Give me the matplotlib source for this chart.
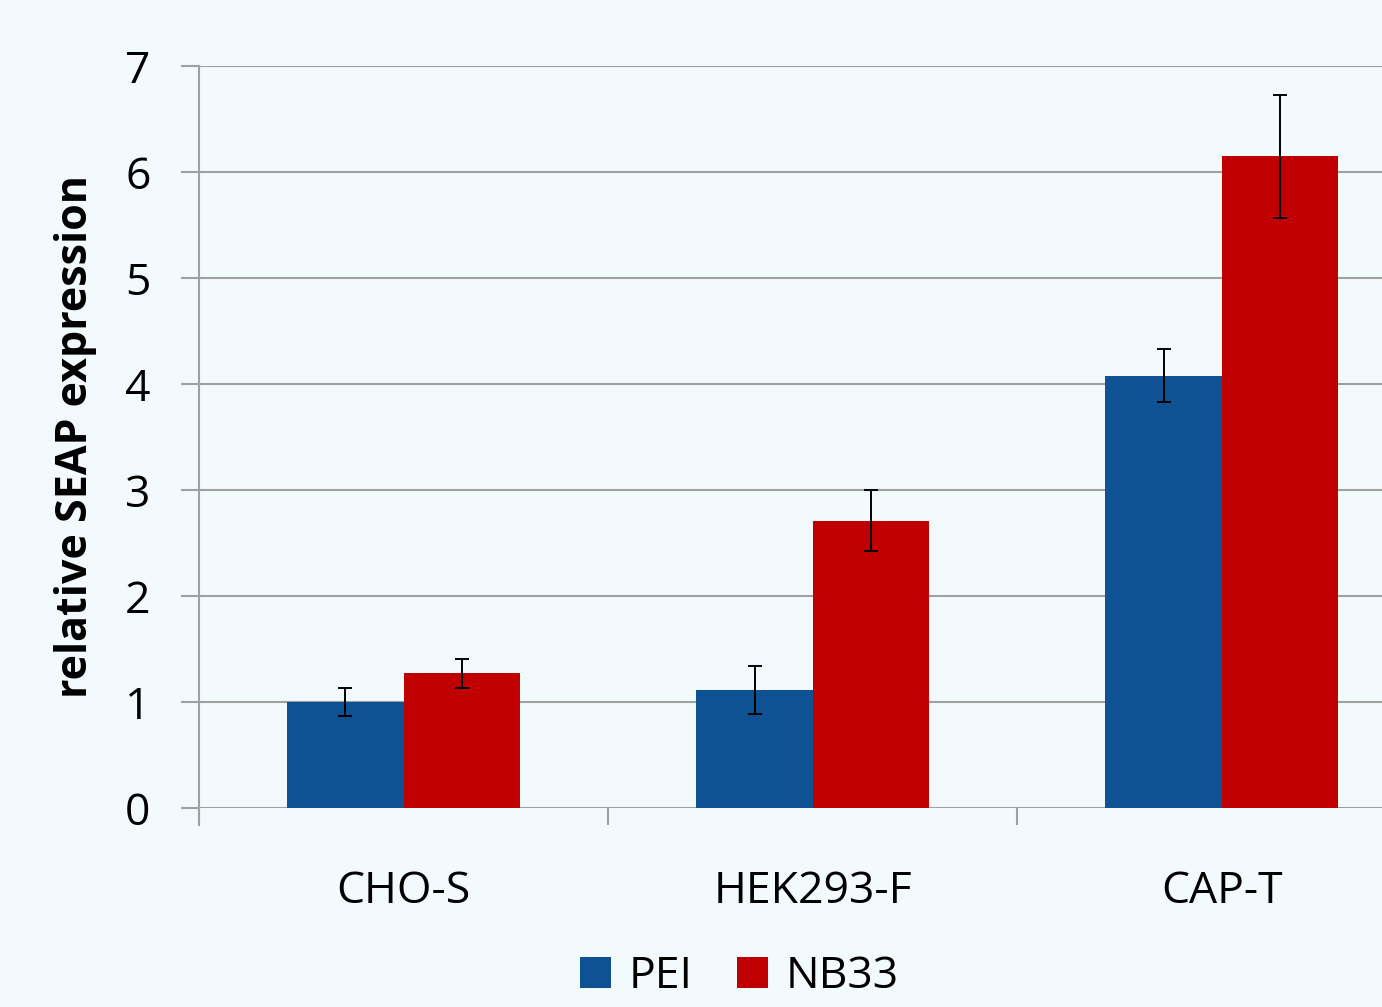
import matplotlib.pyplot as plt
import numpy as np

# data
cell_lines = ['CHO-S', 'HEK293-F', 'CAP-T']
pei = [1.00, 1.11, 4.08]
pei_err = [0.13, 0.225, 0.25]
nb33 = [1.27, 2.71, 6.15]
nb33_err = [0.14, 0.29, 0.58]
series_names = ['PEI', 'NB33']

bg = '#F3FAFD'
blue = '#0F5294'
red = '#C00000'
grid_col = '#A0A0A0'

plt.rcParams['font.family'] = ['Open Sans', 'DejaVu Sans']

fig = plt.figure(figsize=(13.82, 10.07), dpi=100, facecolor=bg)
ax = fig.add_axes([0.144, 0.1976, 0.856, 0.7369])
ax.set_facecolor(bg)

x = np.arange(len(cell_lines))
w = 0.284
ax.bar(x - w/2, pei, w, color=blue, label=series_names[0], zorder=3)
ax.bar(x + w/2, nb33, w, color=red, label=series_names[1], zorder=3)
ax.errorbar(x - w/2, pei, yerr=pei_err, fmt='none', ecolor='black', elinewidth=1.4,
            capsize=5, capthick=1.4, zorder=4)
ax.errorbar(x + w/2, nb33, yerr=nb33_err, fmt='none', ecolor='black', elinewidth=1.4,
            capsize=5, capthick=1.4, zorder=4)

ax.set_xlim(-0.5, 2.392)
ax.set_ylim(0, 7)
ax.set_yticks(range(0, 8))
ax.grid(axis='y', color=grid_col, linewidth=1.5, zorder=0)

for s in ['top', 'right', 'bottom']:
    ax.spines[s].set_visible(False)
ax.spines['left'].set_color(grid_col)
ax.spines['left'].set_linewidth(1.5)
ax.spines['left'].set_bounds(-0.16, 7)

ax.tick_params(axis='y', length=13, width=1.5, color=grid_col, pad=22, labelsize=32)
ax.set_xticks(x)
ax.set_xticklabels(cell_lines)
ax.set_xticks([-0.5, 0.5, 1.5], minor=True)
ax.tick_params(axis='x', which='major', length=0, pad=44, labelsize=32)
ax.tick_params(axis='x', which='minor', length=12, width=1.5, color=grid_col)

ax.set_ylabel('relative SEAP expression', fontsize=31, fontweight='bold', labelpad=20)

fig.legend(loc='upper center', bbox_to_anchor=(0.535, 0.092), ncol=2, frameon=False,
           fontsize=32, handlelength=0.7, handleheight=0.7, handletextpad=0.4,
           columnspacing=1.0)

fig.savefig('out.png', dpi=100, facecolor=bg)
